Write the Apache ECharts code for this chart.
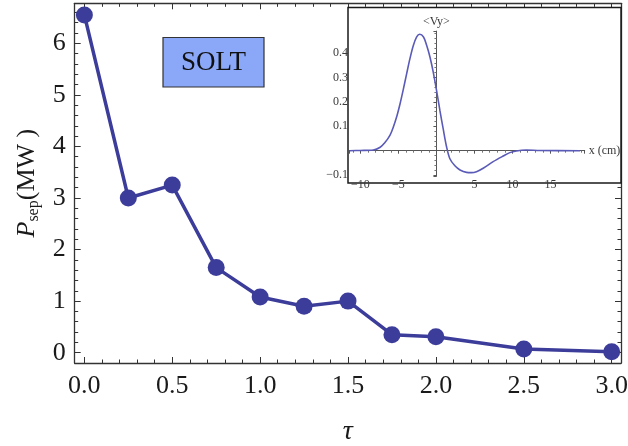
<!DOCTYPE html>
<html>
<head>
<meta charset="utf-8">
<script src="https://cdn.jsdelivr.net/npm/echarts@6/dist/echarts.min.js"></script>
<style>html,body{margin:0;padding:0;background:#fff;}#c{width:628px;height:446px;}</style>
</head>
<body>
<div id="c"></div>
<script>
// Main chart data
const tau  = [0, 0.25, 0.5, 0.75, 1.0, 1.25, 1.5, 1.75, 2.0, 2.5, 3.0];
const psep = [6.55, 3.0, 3.25, 1.65, 1.08, 0.9, 1.0, 0.35, 0.31, 0.07, 0.02];
// Inset curve data (<Vy> vs x in cm)
const vyX = [-11.4, -10, -8.3, -7.4, -6.8, -6.1, -5.7, -5.2, -4.8, -4.4, -3.9, -3.5, -3.05, -2.6, -2.2, -1.7, -1.3, -0.86, -0.42, 0.02, 0.46, 0.89, 1.33, 1.77, 2.43, 3.1, 3.96, 4.6, 5.27, 6.15, 7.46, 8.78, 9.65, 10.5, 11.8, 13.6, 18.9];
const vyY = [0, 0.001, 0.003, 0.014, 0.032, 0.064, 0.094, 0.142, 0.19, 0.245, 0.318, 0.375, 0.43, 0.466, 0.477, 0.466, 0.433, 0.385, 0.322, 0.246, 0.164, 0.089, 0.016, -0.033, -0.062, -0.079, -0.089, -0.09, -0.086, -0.072, -0.045, -0.022, -0.008, -0.001, 0.003, 0.001, 0];
const annotation = 'SOLT';
const xName = 'τ';

const serif = 'Liberation Serif';
const mainColor = '#3c3c9a';
const axisCol = '#333';

function frameAxis(opts) {
  return Object.assign({
    type: 'value', gridIndex: 0,
    axisLine: {show: true, onZero: false, lineStyle: {color: axisCol, width: 1.3}},
    axisTick: {show: true, inside: true, length: 6, lineStyle: {color: axisCol, width: 1}},
    axisLabel: {show: false},
    splitLine: {show: false}
  }, opts);
}
function minorAxis(opts) {
  return Object.assign({
    type: 'value', gridIndex: 0,
    axisLine: {show: false, onZero: false},
    axisTick: {show: true, inside: true, length: 3.5, lineStyle: {color: axisCol, width: 1}},
    axisLabel: {show: false},
    splitLine: {show: false}
  }, opts);
}
const tickLabel = {show: true, fontFamily: serif, fontSize: 26, color: '#1a1a1a', showMinLabel: false, showMaxLabel: false};
const insetLabel = {fontFamily: serif, fontSize: 12, color: '#3a3a3a'};
function insetFmt(v) { return v === 0 ? '' : (v < 0 ? '\u2212' + String(-v) : String(v)); }

const chart = echarts.init(document.getElementById('c'), null, {renderer: 'canvas'});
chart.setOption({
  animation: false,
  grid: [
    {left: 74.7, right: 7, top: 3.3, bottom: 83, containLabel: false, outerBoundsMode: 'none'},
    {left: 349, right: 43.3, top: 31.1, bottom: 269.7, containLabel: false, outerBoundsMode: 'none'}
  ],
  xAxis: [
    frameAxis({min: -0.055, max: 3.053, splitNumber: 5, position: 'bottom',
      axisLabel: Object.assign({}, tickLabel, {margin: 10, formatter: v => v.toFixed(1)}),
      name: xName, nameLocation: 'middle', nameGap: 55,
      nameTextStyle: {fontFamily: serif, fontSize: 28, fontStyle: 'italic', color: '#1a1a1a'}}),
    minorAxis({min: -0.055, max: 3.053, splitNumber: 31, position: 'bottom'}),
    frameAxis({min: -0.055, max: 3.053, splitNumber: 5, position: 'top'}),
    minorAxis({min: -0.055, max: 3.053, splitNumber: 31, position: 'top'}),
    {type: 'value', gridIndex: 1, min: -11.5, max: 19.5, splitNumber: 5, z: 5,
      axisLine: {show: true, onZero: true, lineStyle: {color: '#555', width: 1}},
      axisTick: {show: true, length: 3, lineStyle: {color: '#555'}},
      minorTick: {show: true, splitNumber: 5, length: 2, lineStyle: {color: '#777'}},
      axisLabel: Object.assign({}, insetLabel, {margin: 3, showMinLabel: false, showMaxLabel: false, formatter: insetFmt}),
      splitLine: {show: false},
      name: 'x (cm)', nameLocation: 'end', nameGap: 4,
      nameTextStyle: Object.assign({}, insetLabel)}
  ],
  yAxis: [
    frameAxis({min: -0.2, max: 6.775, splitNumber: 5, position: 'left',
      axisLabel: Object.assign({}, tickLabel, {margin: 9}),
      name: '{p|P}{s|sep}{n|(MW )}', nameLocation: 'middle', nameGap: 32, nameRotate: 90,
      nameTextStyle: {rich: {
        p: {fontFamily: serif, fontSize: 26, fontStyle: 'italic', color: '#1a1a1a', lineHeight: 30},
        s: {fontFamily: serif, fontSize: 16, color: '#1a1a1a', verticalAlign: 'bottom', lineHeight: 30},
        n: {fontFamily: serif, fontSize: 26, color: '#1a1a1a', lineHeight: 30}
      }}}),
    minorAxis({min: -0.2, max: 6.775, splitNumber: 35, position: 'left'}),
    frameAxis({min: -0.2, max: 6.775, splitNumber: 5, position: 'right'}),
    minorAxis({min: -0.2, max: 6.775, splitNumber: 35, position: 'right'}),
    {type: 'value', gridIndex: 1, min: -0.105, max: 0.49, splitNumber: 5, z: 5,
      axisLine: {show: true, onZero: true, lineStyle: {color: '#555', width: 1}},
      axisTick: {show: true, length: 3, lineStyle: {color: '#555'}},
      minorTick: {show: true, splitNumber: 5, length: 2, lineStyle: {color: '#777'}},
      axisLabel: Object.assign({}, insetLabel, {margin: 1, showMinLabel: false, showMaxLabel: false, formatter: insetFmt}),
      splitLine: {show: false},
      name: '<Vy>', nameLocation: 'end', nameGap: 3,
      nameTextStyle: Object.assign({}, insetLabel, {align: 'center'})}
  ],
  graphic: [
    {type: 'rect', z: 1, shape: {x: 348, y: 7.5, width: 273, height: 175.5},
      style: {fill: '#fff', stroke: '#1a1a1a', lineWidth: 1.5}},
    {type: 'group', z: 10, children: [
      {type: 'rect', z: 10, shape: {x: 163, y: 37.5, width: 101, height: 49.5},
        style: {fill: '#8aa7f8', stroke: '#333', lineWidth: 1.2}},
      {type: 'text', z: 11, x: 213.5, y: 62.5,
        style: {text: annotation, fontFamily: serif, fontSize: 27, fill: '#111', align: 'center', verticalAlign: 'middle'}}
    ]}
  ],
  series: [
    {type: 'line', xAxisIndex: 0, yAxisIndex: 0, z: 3,
      data: tau.map((t, i) => [t, psep[i]]),
      symbol: 'circle', symbolSize: 17,
      itemStyle: {color: mainColor},
      lineStyle: {color: mainColor, width: 3.5}},
    {type: 'line', xAxisIndex: 4, yAxisIndex: 4, z: 6,
      data: vyX.map((x, i) => [x, vyY[i]]),
      showSymbol: false, smooth: 0.3,
      lineStyle: {color: '#5a5ab8', width: 1.6}}
  ]
});
</script>
</body>
</html>
